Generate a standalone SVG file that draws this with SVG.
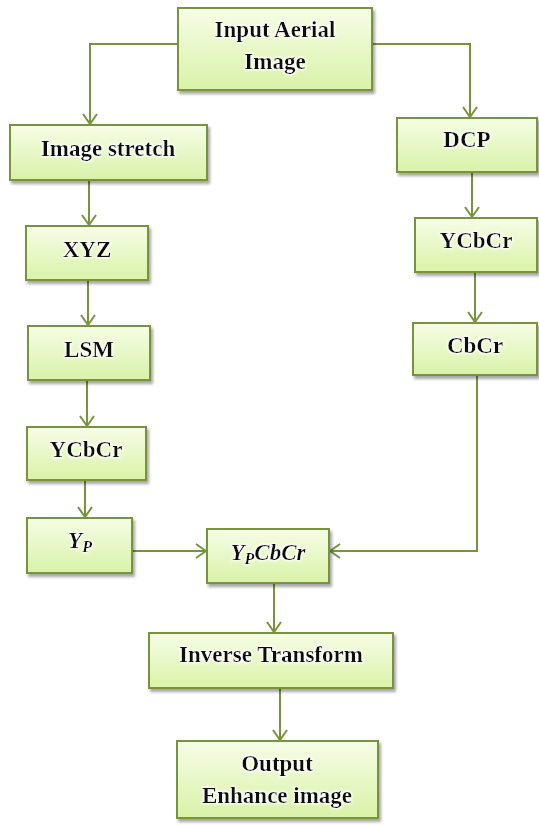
<svg xmlns="http://www.w3.org/2000/svg" width="539" height="825" viewBox="0 0 539 825">
<defs>
<linearGradient id="g" x1="0" y1="0" x2="0" y2="1">
<stop offset="0" stop-color="#f6fde6"/>
<stop offset="1" stop-color="#d9f2a8"/>
</linearGradient>
<filter id="sh" x="-10%" y="-10%" width="130%" height="140%">
<feDropShadow dx="2" dy="3" stdDeviation="1.8" flood-color="#000" flood-opacity="0.35"/>
</filter>
<filter id="glow" x="-10%" y="-20%" width="120%" height="140%">
<feMorphology in="SourceAlpha" operator="dilate" radius="1.2" result="d"/>
<feGaussianBlur in="d" stdDeviation="1.2" result="b"/>
<feFlood flood-color="#fff"/>
<feComposite in2="b" operator="in" result="w"/>
<feMerge><feMergeNode in="w"/><feMergeNode in="SourceGraphic"/></feMerge>
</filter>
<marker id="ar" viewBox="0 0 12 16" refX="11" refY="8" markerWidth="12" markerHeight="16" markerUnits="userSpaceOnUse" orient="auto">
<polyline points="1,1 11,8 1,15" fill="none" stroke="#77933c" stroke-width="2"/>
</marker>
</defs>
<style>
.box{fill:url(#g);stroke:#77933c;stroke-width:2;filter:url(#sh)}
.t{font-family:"Liberation Serif","Times New Roman",serif;font-weight:bold;font-size:23px;fill:#111;text-anchor:middle;filter:url(#glow)}
.m{font-style:italic}
.c{fill:none;stroke:#77933c;stroke-width:2;marker-end:url(#ar)}
</style>
<g id="connectors">
<polyline class="c" points="178,44 90,44 90,124"/>
<polyline class="c" points="372,44 470,44 470,117"/>
<line class="c" x1="89" y1="181" x2="89" y2="225"/>
<line class="c" x1="88" y1="281" x2="88" y2="325"/>
<line class="c" x1="87" y1="381" x2="87" y2="426"/>
<line class="c" x1="85" y1="481" x2="85" y2="517"/>
<line class="c" x1="472" y1="173" x2="472" y2="217"/>
<line class="c" x1="475" y1="273" x2="475" y2="322"/>
<line class="c" x1="132" y1="551" x2="206" y2="551"/>
<polyline class="c" points="477,376 477,551 330,551"/>
<line class="c" x1="274" y1="584" x2="274" y2="632"/>
<line class="c" x1="280" y1="689" x2="280" y2="740"/>
</g>
<g id="input"><rect class="box" x="178" y="8" width="194" height="82"/><text class="t" x="275" y="37">Input Aerial</text><text class="t" x="275" y="69">Image</text></g>
<g id="stretch"><rect class="box" x="10" y="125" width="197" height="55"/><text class="t" x="108" y="156">Image stretch</text></g>
<g id="dcp"><rect class="box" x="397" y="118" width="140" height="54"/><text class="t" x="467" y="147">DCP</text></g>
<g id="ycbcr2"><rect class="box" x="415" y="218" width="122" height="54"/><text class="t" x="476" y="248">YCbCr</text></g>
<g id="cbcr"><rect class="box" x="413" y="323" width="124" height="52"/><text class="t" x="475" y="353">CbCr</text></g>
<g id="xyz"><rect class="box" x="26" y="226" width="122" height="54"/><text class="t" x="87" y="257">XYZ</text></g>
<g id="lsm"><rect class="box" x="28" y="326" width="122" height="54"/><text class="t" x="89" y="357">LSM</text></g>
<g id="ycbcr1"><rect class="box" x="27" y="427" width="119" height="53"/><text class="t" x="86" y="457">YCbCr</text></g>
<g id="yp"><rect class="box" x="27" y="518" width="105" height="55"/><text class="t m" x="80" y="548">Y<tspan font-size="16" dy="4">P</tspan></text></g>
<g id="ypcbcr"><rect class="box" x="207" y="529" width="122" height="54"/><text class="t m" x="268" y="560">Y<tspan font-size="16" dy="4">P</tspan><tspan dy="-4">CbCr</tspan></text></g>
<g id="inverse"><rect class="box" x="149" y="633" width="244" height="55"/><text class="t" x="271" y="662">Inverse Transform</text></g>
<g id="output"><rect class="box" x="177" y="741" width="201" height="77"/><text class="t" x="277" y="771">Output</text><text class="t" x="277" y="803">Enhance image</text></g>
</svg>
